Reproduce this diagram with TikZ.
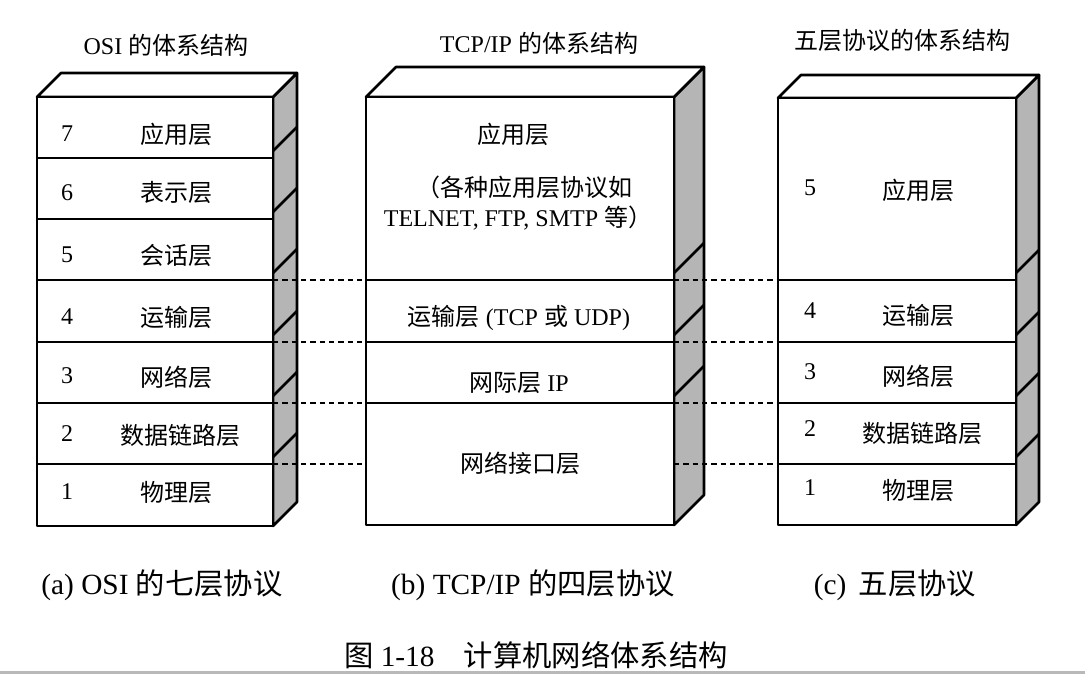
\documentclass[tikz,border=0pt]{standalone}
\usepackage{fontspec}
\setmainfont{Liberation Serif}
\newfontfamily\zhfont{Noto Sans CJK SC}
\newcommand{\zh}[1]{{\zhfont #1}}
\tikzset{
  edge/.style={line width=2pt, line join=round},
  sideface/.style={fill=gray!58, draw=black, line width=2pt, line join=round},
  frontface/.style={fill=white, draw=black, line width=2pt, line join=round},
  dashlink/.style={line width=1pt, dash pattern=on 4pt off 3pt},
  lab/.style={font=\fontsize{18}{21}\selectfont, inner sep=0pt},
  ttl/.style={font=\fontsize{18}{21}\selectfont, inner sep=0pt},
  captext/.style={font=\fontsize{22}{25}\selectfont, inner sep=0pt},
}
\begin{document}
\begin{tikzpicture}[x=0.75pt, y=-0.75pt]
\useasboundingbox (0,0) rectangle (1085,674);
\fill[white] (0,0) rectangle (1085,674);

% ---------- (a) OSI ----------
\draw[sideface] (273,97) -- (297,73) -- (297,502) -- (273,526) -- cycle;
\draw[frontface] (37,97) -- (61,73) -- (297,73) -- (273,97) -- cycle;
\draw[frontface] (37,97) rectangle (273,526);
\foreach \y in {158,219,280,342,403,464} {
  \draw[edge] (37,\y) -- (273,\y);
  \draw[edge] (273,\y-7) -- (297,\y-31);
}
\coordinate (a4) at (273,280);
\coordinate (a3) at (273,342);
\coordinate (a2) at (273,403);
\coordinate (a1) at (273,464);

% ---------- (b) TCP/IP ----------
\draw[sideface] (674,97) -- (704,67) -- (704,495) -- (674,525) -- cycle;
\draw[frontface] (366,97) -- (396,67) -- (704,67) -- (674,97) -- cycle;
\draw[frontface] (366,97) rectangle (674,525);
\foreach \y in {280,342,403} {
  \draw[edge] (366,\y) -- (674,\y);
  \draw[edge] (674,\y-7) -- (704,\y-37);
}
\coordinate (b4l) at (366,280);
\coordinate (b3l) at (366,342);
\coordinate (b2l) at (366,403);
\coordinate (b1l) at (366,464);
\coordinate (b4r) at (674,280);
\coordinate (b3r) at (674,342);
\coordinate (b2r) at (674,403);
\coordinate (b1r) at (674,464);

% ---------- (c) five layers ----------
\draw[sideface] (1016,98) -- (1039,75) -- (1039,502) -- (1016,525) -- cycle;
\draw[frontface] (778,98) -- (801,75) -- (1039,75) -- (1016,98) -- cycle;
\draw[frontface] (778,98) rectangle (1016,525);
\foreach \y in {280,342,403,464} {
  \draw[edge] (778,\y) -- (1016,\y);
  \draw[edge] (1016,\y-7) -- (1039,\y-30);
}
\coordinate (c4) at (778,280);
\coordinate (c3) at (778,342);
\coordinate (c2) at (778,403);
\coordinate (c1) at (778,464);

% ---------- dashed links ----------
\draw[dashlink] (a4) -- (b4l);
\draw[dashlink] (a3) -- (b3l);
\draw[dashlink] (a2) -- (b2l);
\draw[dashlink] (a1) -- (b1l);
\draw[dashlink] (b4r) -- (c4);
\draw[dashlink] (b3r) -- (c3);
\draw[dashlink] (b2r) -- (c2);
\draw[dashlink] (b1r) -- (c1);

% ---------- titles ----------
\node[ttl] (ta) at (166,45) {OSI \zh{的体系结构}};
\node[ttl] (tb) at (539,43) {TCP/IP \zh{的体系结构}};
\node[ttl] (tc) at (902,40) {\zh{五层协议的体系结构}};

% ---------- OSI labels ----------
\node[lab] (a7n) at (67,134) {7};  \node[lab] (a7t) at (176,134) {\zh{应用层}};
\node[lab] (a6n) at (67,193) {6};  \node[lab] (a6t) at (176,192) {\zh{表示层}};
\node[lab] (a5n) at (67,255) {5};  \node[lab] (a5t) at (176,255) {\zh{会话层}};
\node[lab] (a4n) at (67,317) {4};  \node[lab] (a4t) at (176,317) {\zh{运输层}};
\node[lab] (a3n) at (67,376) {3};  \node[lab] (a3t) at (176,377) {\zh{网络层}};
\node[lab] (a2n) at (67,434) {2};  \node[lab] (a2t) at (180,435) {\zh{数据链路层}};
\node[lab] (a1n) at (67,492) {1};  \node[lab] (a1t) at (176,492) {\zh{物理层}};

% ---------- TCP/IP labels ----------
\node[lab] (b4t) at (513,134) {\zh{应用层}};
\node[lab] (b4a) at (524,187) {\zh{（各种应用层协议如}};
\node[lab] (b4b) at (518,218) {TELNET, FTP, SMTP \zh{等）}};
\node[lab] (b3t) at (519,318) {\zh{运输层} (TCP \zh{或} UDP)};
\node[lab] (b2t) at (519,383) {\zh{网际层} IP};
\node[lab] (b1t) at (520,463) {\zh{网络接口层}};

% ---------- (c) labels ----------
\node[lab] (c5n) at (810,188) {5};  \node[lab] (c5t) at (918,190) {\zh{应用层}};
\node[lab] (c4n) at (810,311) {4};  \node[lab] (c4t) at (918,315) {\zh{运输层}};
\node[lab] (c3n) at (810,372) {3};  \node[lab] (c3t) at (918,376) {\zh{网络层}};
\node[lab] (c2n) at (810,429) {2};  \node[lab] (c2t) at (922,433) {\zh{数据链路层}};
\node[lab] (c1n) at (810,488) {1};  \node[lab] (c1t) at (918,490) {\zh{物理层}};

% ---------- captions ----------
\node[captext] (capa) at (162,585) {(a) OSI \zh{的七层协议}};
\node[captext] (capb) at (533,585) {(b) TCP/IP \zh{的四层协议}};
\node[captext] (capc) at (895,585) {(c)\, \zh{五层协议}};
\node[captext] (fig) at (536,655) {\zh{图} 1-18\quad\zh{计算机网络体系结构}};

% scan edge
\fill[gray!55] (0,671) rectangle (1085,674);
\end{tikzpicture}
\end{document}
